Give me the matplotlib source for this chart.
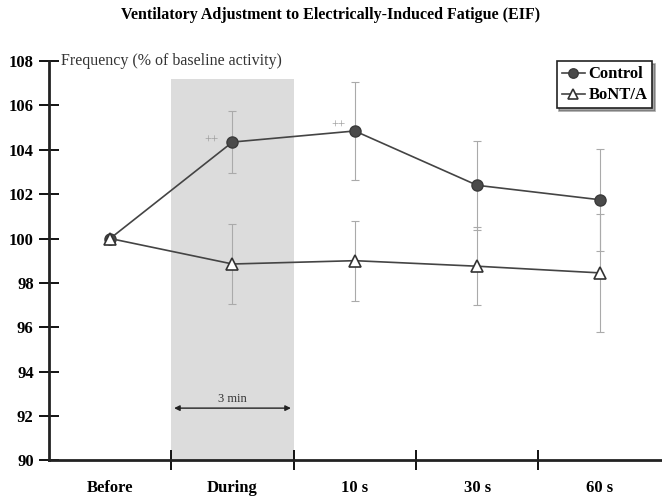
import numpy as np
import matplotlib.pyplot as plt

phases = ['Before', 'During', '10 s', '30 s', '60 s']
control = [100.0, 104.35, 104.85, 102.4, 101.75]
control_err = [0.0, 1.4, 2.2, 2.0, 2.3]
bont = [100.0, 98.85, 99.0, 98.75, 98.45]
bont_err = [0.0, 1.8, 1.8, 1.75, 2.65]

plt.rcParams['font.family'] = ['Liberation Serif', 'DejaVu Serif']

fig = plt.figure(figsize=(6.62, 4.97), dpi=100)
ax = fig.add_axes([0.074, 0.074, 0.924, 0.803])

x = np.arange(len(phases)) + 0.5

# shaded fatigue period
ax.fill_between([1, 2], 90, 107.2, color='#dcdcdc', lw=0, zorder=0)
ax.annotate('', xy=(1.0, 92.35), xytext=(2.0, 92.35),
            arrowprops=dict(arrowstyle='<|-|>', color='#222222', lw=1, mutation_scale=8))
ax.text(1.5, 92.5, '3 min', ha='center', va='bottom', fontsize=9, color='#333333')

ax.errorbar(x, control, yerr=control_err, fmt='none', ecolor='#aaaaaa',
            elinewidth=0.8, capsize=3, capthick=0.8, zorder=2)
ax.errorbar(x, bont, yerr=bont_err, fmt='none', ecolor='#aaaaaa',
            elinewidth=0.8, capsize=3, capthick=0.8, zorder=2)
ax.plot(x, control, '-o', color='#444444', lw=1.2, ms=8, mfc='#4a4a4a',
        mec='#3a3a3a', label='Control', zorder=3)
ax.plot(x, bont, '-^', color='#444444', lw=1.2, ms=8, mfc='white',
        mec='#333333', mew=1.2, label='BoNT/A', zorder=3)

ax.text(1.33, 104.4, '++', ha='center', va='center', fontsize=9, color='#999999')
ax.text(2.37, 105.1, '++', ha='center', va='center', fontsize=9, color='#999999')

ax.set_xlim(0, 5)
ax.set_ylim(90, 108)
ax.set_yticks(np.arange(90, 109, 2))
ax.set_xticks([1, 2, 3, 4])
ax.set_xticklabels([])
ax.set_xticks(x, minor=True)
ax.set_xticklabels(phases, minor=True)
ax.tick_params(axis='x', which='minor', length=0, pad=14, labelsize=12)
ax.tick_params(axis='x', which='major', direction='inout', length=14, width=1.3)
ax.tick_params(axis='y', direction='inout', length=14, width=1.3, labelsize=12, pad=4)
for lab in ax.get_xticklabels(minor=True) + ax.get_yticklabels():
    lab.set_fontweight('bold')

for s in ['top', 'right']:
    ax.spines[s].set_visible(False)
for s in ['left', 'bottom']:
    ax.spines[s].set_linewidth(2)
    ax.spines[s].set_color('#222222')

ax.text(0.1, 108, 'Frequency (% of baseline activity)', ha='left', va='center',
        fontsize=11.5, color='#333333')

leg = ax.legend(loc='upper right', bbox_to_anchor=(1.0, 1.02), frameon=True,
                fancybox=False, shadow=True, handlelength=1.4, handletextpad=0.2,
                borderpad=0.3, labelspacing=0.3, markerscale=0.85,
                prop={'weight': 'bold', 'size': 12})
leg.get_frame().set_edgecolor('#222222')
leg.get_frame().set_linewidth(1.2)

fig.suptitle('Ventilatory Adjustment to Electrically-Induced Fatigue (EIF)',
             fontsize=11.5, fontweight='bold', y=0.985)

fig.savefig('out.png', dpi=100)
